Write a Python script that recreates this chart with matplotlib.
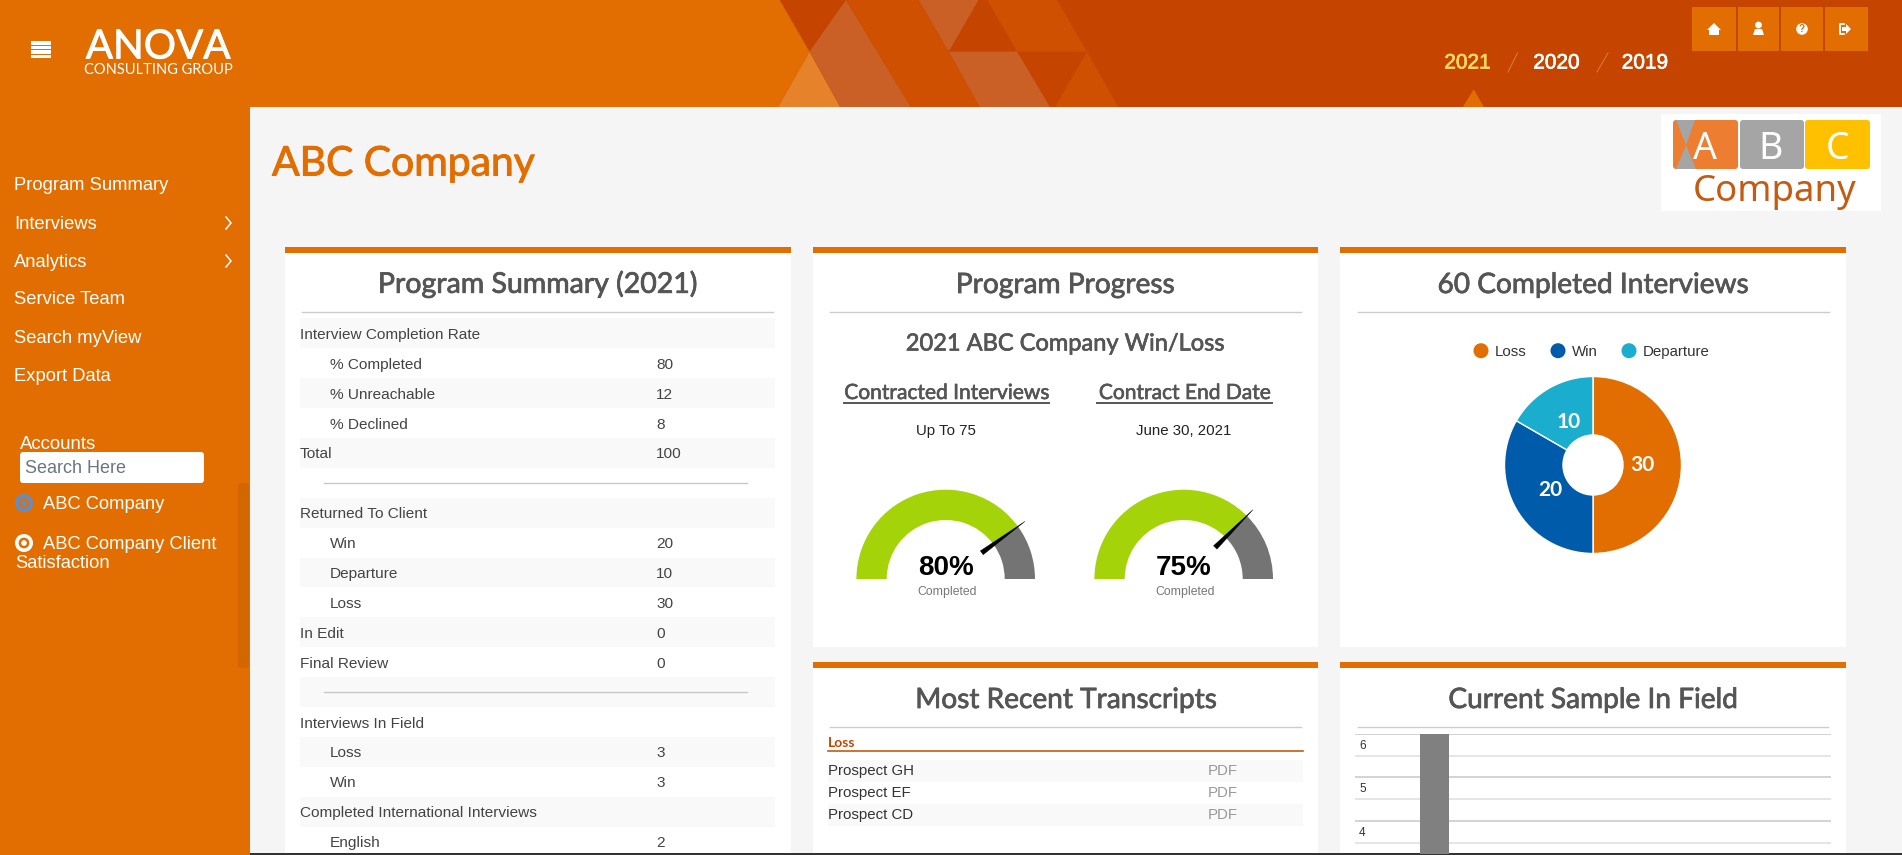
import numpy as np
import matplotlib
matplotlib.use('Agg')
import matplotlib.pyplot as plt
import matplotlib.patheffects as pe
from matplotlib.patches import Rectangle, Polygon, Wedge, Circle, FancyBboxPatch
from matplotlib.transforms import ScaledTranslation

W, H = 1902, 855

ORANGE = '#e26d00'
DARK = '#c44400'
MID = '#cf5000'
LIGHT = '#cb6026'
PALE = '#e6832a'
HEAD = '#555555'
BODY = '#444444'

menu_items = ['Program Summary', 'Interviews', 'Analytics', 'Service Team', 'Search myView', 'Export Data']
menu_arrows = ['Interviews', 'Analytics']
years = ['2021', '2020', '2019']

summary_labels = ['Interview Completion Rate', '% Completed', '% Unreachable', '% Declined', 'Total', None,
                  'Returned To Client', 'Win', 'Departure', 'Loss', 'In Edit', 'Final Review', None,
                  'Interviews In Field', 'Loss', 'Win', 'Completed International Interviews', 'English']
summary_values = ['', '80', '12', '8', '100', '',
                  '', '20', '10', '30', '0', '0', '',
                  '', '3', '3', '', '2']
summary_sub = [1, 2, 3, 7, 8, 9, 14, 15, 17]

gauge_heads = ['Contracted Interviews', 'Contract End Date']
gauge_notes = ['Up To 75', 'June 30, 2021']
gauge_values = [80, 75]

pie_labels = ['Loss', 'Win', 'Departure']
pie_values = [30, 20, 10]
pie_colors = [ORANGE, '#005cab', '#1badce']

transcripts = ['Prospect GH', 'Prospect EF', 'Prospect CD']

sample_categories = ['Sample']
sample_values = [6]
sample_ticks = [4, 5, 6]

fig = plt.figure(figsize=(W / 100, H / 100), dpi=100, facecolor='#f5f5f5')
ax = fig.add_axes([0, 0, 1, 1])
ax.set_xlim(0, W)
ax.set_ylim(H, 0)
ax.axis('off')


def px_axes(x0, y0, x1, y1):
    a = fig.add_axes([x0 / W, 1 - y1 / H, (x1 - x0) / W, (y1 - y0) / H])
    a.patch.set_alpha(0)
    return a


def rect(x0, y0, x1, y1, color, z=1):
    ax.add_patch(Rectangle((x0, y0), x1 - x0, y1 - y0, fc=color, ec='none', zorder=z))


def poly(points, color, z=2):
    ax.add_patch(Polygon(points, closed=True, fc=color, ec='none', zorder=z))


def arial(x, y, s, size=11.1, color=BODY, ha='left', weight='normal', bold=0):
    t = ax.text(x, y + 1, s, fontsize=size, color=color, ha=ha, va='center', family='Liberation Sans', weight=weight, zorder=5)
    if bold:
        t.set_path_effects([pe.withStroke(linewidth=bold, foreground=color)])


def heading(x, y, s, size=20.2, color=HEAD, ha='center', bold=0.55):
    # Lato only comes in regular and bold here, a thin stroke gets it to semibold
    t = ax.text(x, y, s, fontsize=size, color=color, ha=ha, va='center', family='Lato', zorder=5)
    t.set_path_effects([pe.withStroke(linewidth=bold, foreground=color)])


# header and sidebar
rect(0, 0, W, 107, DARK)
rect(0, 0, 250, H, ORANGE)


def hx(v):
    return 760 + v / 1.373


def hp(points):
    return [(hx(a), b / 3) for a, b in points]


poly([(0, 0), (hx(27), 0), (hx(68), 155 / 3), (hx(25), 107), (0, 107)], ORANGE)
poly(hp([(68, 155), (25, 321), (110, 321)]), PALE)
poly(hp([(118, 0), (207, 321), (110, 321), (68, 155)]), LIGHT)
poly(hp([(118, 0), (218, 0), (302, 321), (207, 321)]), MID)
poly(hp([(218, 0), (300, 0), (259, 155)]), LIGHT)
poly(hp([(312, 0), (408, 0), (449, 155), (353, 155)]), MID)
poly(hp([(259, 155), (353, 155), (398, 321), (302, 321)]), LIGHT)
poly(hp([(449, 155), (492, 321), (405, 321)]), MID)
poly(hp([(980, 268), (965, 321), (994, 321)]), ORANGE)

# hamburger
for y in [43, 47.5, 52, 56.5]:
    rect(31, y - 1.6, 51, y + 1.6, 'white', 3)

logo = ax.text(158, 47, 'ANOVA', fontsize=29, color='white', ha='center', va='center', family='Lato', zorder=5)
logo.set_path_effects([pe.withStroke(linewidth=0.6, foreground='white')])
ax.text(158.5, 70, 'CONSULTING GROUP', fontsize=10.5, color='white', ha='center', va='center', family='Lato', zorder=5)

# buttons
for x0, x1 in [(1692, 1736), (1738, 1779), (1781, 1823), (1825, 1868)]:
    rect(x0, 7, x1, 51, ORANGE, 3)
poly([(1714, 23), (1721, 30), (1719, 30), (1719, 35), (1709, 35), (1709, 30), (1707, 30)], 'white', 4)
ax.add_patch(Circle((1758.5, 25), 3.4, fc='white', ec='none', zorder=4))
poly([(1755, 29), (1762, 29), (1764, 35), (1753, 35)], 'white', 4)
ax.add_patch(Circle((1802, 29), 5.8, fc='white', ec='none', zorder=4))
ax.text(1802, 29, '?', fontsize=7, color=ORANGE, ha='center', va='center', weight='bold', family='Liberation Sans', zorder=5)
poly([(1846, 24), (1851, 29), (1846, 34), (1846, 31), (1842, 31), (1842, 27), (1846, 27)], 'white', 4)
ax.plot([1844, 1840, 1840, 1844], [24, 24, 34, 34], color='white', lw=1.3, zorder=4)

# years
for x, s, c in zip([1467.5, 1556.5, 1645], years, ['#ffd966', 'white', 'white']):
    arial(x, 62, s, size=15, color=c, ha='center', bold=0.5)
ax.plot([1517.5, 1508], [53, 72], color='#d9763a', lw=0.8, zorder=4)
ax.plot([1608, 1597], [53, 72], color='#d9763a', lw=0.8, zorder=4)

# company logo
rect(1661, 114, 1881, 211, 'white', 2)
for x0, x1, c in [(1673, 1738, '#ed7d31'), (1740, 1804, '#a5a5a5'), (1805, 1870, '#ffc000')]:
    ax.add_patch(FancyBboxPatch((x0 + 3, 123), x1 - x0 - 6, 43, boxstyle='round,pad=3', fc=c, ec='none', zorder=3))
poly([(1676, 120), (1695, 120), (1686, 145)], '#a5a5a5', 4)
poly([(1686, 145), (1696, 169), (1676, 169)], '#a5a5a5', 4)
for x, s in zip([1705, 1771, 1838], 'ABC'):
    ax.text(x, 149, s, fontsize=27, color='white', ha='center', va='center', family='Noto Sans', zorder=5)
ax.text(1774.5, 192, 'Company', fontsize=26.3, color='#c55a11', ha='center', va='center', family='Noto Sans', zorder=5)

# sidebar menu
for y, s in zip([185, 223, 261, 298, 337, 375], menu_items):
    arial(14, y, s, size=13.25, color='white')
    if s in menu_arrows:
        ax.plot([226, 231, 226], [y - 6, y, y + 6], color='white', lw=1.1, zorder=5)

arial(20, 443, 'Accounts', size=13.4, color='white')
ax.add_patch(FancyBboxPatch((23, 455), 178, 25, boxstyle='round,pad=3', fc='white', ec='none', zorder=3))
arial(25, 467, 'Search Here', size=13, color='#6c757d')
ax.add_patch(Circle((24, 503), 7.2, fc='none', ec='#5b8fd0', lw=2.6, zorder=4))
ax.add_patch(Circle((24, 503), 2.8, fc='#5b8fd0', ec='none', zorder=4))
arial(43, 503, 'ABC Company', size=13.25, color='white')
ax.add_patch(Circle((24, 543), 7.2, fc='none', ec='white', lw=2.6, zorder=4))
ax.add_patch(Circle((24, 543), 2.8, fc='white', ec='none', zorder=4))
arial(43, 543, 'ABC Company Client', size=13.25, color='white')
arial(15, 562, 'Satisfaction', size=13.25, color='white')
ax.add_patch(FancyBboxPatch((241, 486), 5, 179, boxstyle='round,pad=3', fc='#d26600', ec='none', zorder=2))

heading(272, 164, 'ABC Company', size=29.4, color=ORANGE, ha='left', bold=0.7)

# cards
cards = [(285, 247, 791, H), (813, 247, 1318, 647), (1340, 247, 1846, 647), (813, 662, 1318, H), (1340, 662, 1846, H)]
for x0, y0, x1, y1 in cards:
    rect(x0, y0, x1, y1, 'white')
    rect(x0, y0, x1, y0 + 6, ORANGE, 2)

heading(538, 284, 'Program Summary (2021)', size=20.5)
ax.plot([302, 773], [312.5, 312.5], color='#cccccc', lw=1, zorder=3)
heading(1065, 285, 'Program Progress')
ax.plot([830, 1301], [312, 312], color='#cccccc', lw=1, zorder=3)
heading(1593, 285, '60 Completed Interviews')
ax.plot([1358, 1829], [312, 312], color='#cccccc', lw=1, zorder=3)
heading(1066, 700, 'Most Recent Transcripts')
ax.plot([830, 1301], [727, 727], color='#cccccc', lw=1, zorder=3)
heading(1593, 700, 'Current Sample In Field')
ax.plot([1358, 1828], [727, 727], color='#cccccc', lw=1, zorder=3)

# program summary table
row_h = 29.9
for i, (label, value) in enumerate(zip(summary_labels, summary_values)):
    top = 318.4 + i * row_h
    if i % 2 == 0:
        rect(300, top, 775, top + row_h, '#f9f9f9', 2)
    if label is None:
        ax.plot([324, 747], [top + row_h / 2] * 2, color='#c8c8c8', lw=1, zorder=3)
        continue
    arial(330 if i in summary_sub else 300, top + row_h / 2 + 0.5, label)
    arial(656, top + row_h / 2 + 0.5, value)

# program progress
heading(1065, 344, '2021 ABC Company Win/Loss', size=17, bold=0.5)
for x, head, note in zip([947, 1185], gauge_heads, gauge_notes):
    heading(x, 393, head, size=15.1, bold=0.45)
    arial(x - 1, 430, note, size=10.8, color='#222222', ha='center')
for x0, x1 in [(844, 1049), (1097, 1272)]:
    ax.plot([x0, x1], [403, 403], color=HEAD, lw=1.4, zorder=3)

for cx, value in zip([945.7, 1183.7], gauge_values):
    g = px_axes(cx - 105, 579 - 105, cx + 105, 579 + 5)
    g.set_xlim(-105, 105)
    g.set_ylim(-5, 105)
    g.axis('off')
    angle = 180 * (1 - value / 100)
    g.add_patch(Wedge((0, 0), 89.3, angle, 180, width=30.3, fc='#a4d30a', ec='none'))
    g.add_patch(Wedge((0, 0), 89.3, 0, angle, width=30.3, fc='#747474', ec='none'))
    t = np.radians(angle)
    d = np.array([np.cos(t), np.sin(t)])
    n = np.array([-d[1], d[0]])
    g.add_patch(Polygon([d * 44.6 + n * 2.4, d * 44.6 - n * 2.4, d * 98, d * 98], fc='black', ec='black', lw=0.3, zorder=5))
    arial(cx, 566.7, '%d%%' % value, size=20, color='black', ha='center', weight='bold')
    arial(cx + 1, 590.7, 'Completed', size=8.8, color='#777777', ha='center')

# completed interviews pie
for cx, tx, s, c in zip([1481, 1558, 1629], [1495, 1572, 1643], pie_labels, pie_colors):
    ax.add_patch(Circle((cx, 350.7), 7.5, fc=c, ec='none', zorder=3))
    arial(tx, 350.7, s, size=10.8, color='#333333')

pa = px_axes(1593 - 90, 465 - 90, 1593 + 90, 465 + 90)
counts = iter(pie_values)
wedges, _, auto = pa.pie(pie_values, colors=pie_colors, startangle=90, counterclock=False, radius=88.5,
                         wedgeprops=dict(width=58.5, edgecolor='white', linewidth=1),
                         autopct=lambda p: str(next(counts)), pctdistance=0.56)
pa.set_xlim(-90, 90)
pa.set_ylim(-90, 90)
for t in auto:
    t.set_color('white')
    t.set_fontsize(15)
    t.set_family('Lato')
    t.set_weight('bold')

# transcripts
loss = ax.text(828, 743, 'Loss', fontsize=10, color=DARK, ha='left', va='center', family='Lato', weight='bold', zorder=5)
ax.plot([828, 1303], [751, 751], color='#c55a11', lw=1.2, zorder=3)
for i, s in enumerate(transcripts):
    top = 760 + i * 22
    if i % 2 == 0:
        rect(828, top, 1303, top + 22, '#f9f9f9', 2)
    arial(828, top + 10, s, size=10.8, color='#333333')
    arial(1208, top + 10, 'PDF', size=10.8, color='#999999')

# current sample bar
b = px_axes(1355, 734, 1831, 853.5)
b.bar(range(len(sample_values)), sample_values, width=1, color='#808080', zorder=3)
b.set_xlim(-2.77, 13.83)
b.set_ylim(6 - 119.5 / 43.4, 6)
for s in b.spines.values():
    s.set_visible(False)
b.set_xticks([])
b.set_yticks(sample_ticks)
b.set_yticklabels([str(v) for v in sample_ticks], fontsize=8.5, color='#333333', family='Liberation Sans')
b.set_yticks([3.5, 4.5, 5.5], minor=True)
b.tick_params(axis='y', which='both', length=0, pad=-3)
b.grid(True, axis='y', which='major', color='#cccccc', lw=1.2, zorder=1)
b.grid(True, axis='y', which='minor', color='#e0e0e0', lw=1.2, zorder=1)
shift = ScaledTranslation(0, -6 / 100, fig.dpi_scale_trans)
for lbl in b.get_yticklabels():
    lbl.set_ha('left')
    lbl.set_va('top')
    lbl.set_transform(lbl.get_transform() + shift)

rect(250, 853.3, W, H, '#333333', 8)

fig.savefig('out.png', dpi=100, facecolor=fig.get_facecolor())
